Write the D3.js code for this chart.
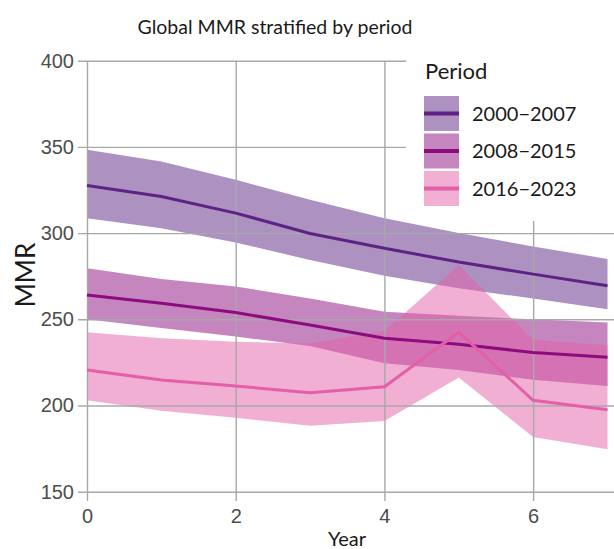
<!DOCTYPE html>
<html><head><meta charset="utf-8">
<script src="https://cdn.jsdelivr.net/npm/d3@7"></script>
<style>
body{margin:0;background:#fff;}
svg{font-family:Lato,"Noto Sans",sans-serif;}
</style></head>
<body><svg id="c" width="614" height="549"></svg>
<script>
const years = [0,1,2,3,4,5,6,7];
const periods = ["2000\u22122007","2008\u22122015","2016\u22122023"];
const colors = ["#5c2384","#8c0c7e","#e35fa8"];
const mean2000 = [327.6,321.2,311.6,299.8,291.2,283.2,276.2,269.5];
const upper2000 = [348.3,341.5,330.9,319.3,308.6,300.0,292.3,285.0];
const lower2000 = [308.6,302.8,294.5,284.4,275.2,268.0,262.0,255.8];
const mean2008 = [264.1,259.3,253.9,246.7,239.0,235.5,230.8,228.0];
const upper2008 = [279.6,273.4,269.0,262.0,254.4,252.0,250.0,248.2];
const lower2008 = [250.0,245.0,240.0,234.5,224.5,220.6,215.0,211.3];
const mean2016 = [220.6,214.8,211.3,207.4,210.9,242.5,203.0,197.5];
const upper2016 = [242.5,239.0,237.0,236.0,243.0,281.5,238.0,235.0];
const lower2016 = [203.1,197.0,192.9,188.2,191.0,216.3,181.7,174.6];
const xTicks = [0,2,4,6];
const yTicks = [150,200,250,300,350,400];

const series = [
  {name:periods[0], color:colors[0], mean:mean2000, upper:upper2000, lower:lower2000},
  {name:periods[1], color:colors[1], mean:mean2008, upper:upper2008, lower:lower2008},
  {name:periods[2], color:colors[2], mean:mean2016, upper:upper2016, lower:lower2016}
];

const svg = d3.select("#c");
const x = d3.scaleLinear().domain([0,7]).range([87,607.5]);
const y = d3.scaleLinear().domain([150,400]).range([491.7,60.7]);

// bands
const area = d3.area().x((d,i)=>x(years[i])).y0(d=>y(d[1])).y1(d=>y(d[0]));
series.forEach(s=>{
  svg.append("path")
    .datum(s.upper.map((u,i)=>[u,s.lower[i]]))
    .attr("d",area)
    .attr("fill",s.color).attr("fill-opacity",0.5);
});

// axes with gridlines
const gx = svg.append("g").attr("transform","translate(0,501)")
  .call(d3.axisBottom(x).tickValues(xTicks).tickFormat(d3.format("d"))
    .tickSizeInner(-(501-60.7)).tickSizeOuter(0).tickPadding(8));
const gy = svg.append("g").attr("transform","translate(78,0)")
  .call(d3.axisLeft(y).tickValues(yTicks).tickFormat(d3.format("d"))
    .tickSizeInner(-(614-78)).tickSizeOuter(0).tickPadding(4));
[gx,gy].forEach(g=>{
  g.select(".domain").remove();
  g.selectAll(".tick line").attr("stroke","#a8a8a8").attr("stroke-width",1.4);
  g.selectAll(".tick text").attr("fill","#4d4d4d").style("font-size","20px");
});

// lines
const line = d3.line().x((d,i)=>x(years[i])).y(d=>y(d));
series.forEach(s=>{
  svg.append("path").datum(s.mean).attr("d",line)
    .attr("fill","none").attr("stroke",s.color).attr("stroke-width",3);
});

// titles
svg.append("text").attr("x",275).attr("y",34).attr("text-anchor","middle")
  .style("font-size","19.5px").attr("fill","#1a1a1a").text("Global MMR stratified by period");
svg.append("text").attr("x",347).attr("y",546).attr("text-anchor","middle")
  .style("font-size","20px").attr("fill","#1a1a1a").text("Year");
svg.append("text").attr("transform","translate(35,275) rotate(-90)").attr("text-anchor","middle")
  .style("font-size","26px").attr("fill","#1a1a1a").text("MMR");

// legend
const lg = svg.append("g");
lg.append("rect").attr("x",406).attr("y",55).attr("width",208).attr("height",166).attr("fill","#fff");
lg.append("text").attr("x",425).attr("y",79).style("font-size","22px").attr("fill","#1a1a1a").text("Period");
series.forEach((s,i)=>{
  const yy = 96 + i*37.5;
  lg.append("rect").attr("x",424).attr("y",yy).attr("width",35).attr("height",35)
    .attr("fill",s.color).attr("fill-opacity",0.5);
  lg.append("line").attr("x1",424).attr("x2",459).attr("y1",yy+17.5).attr("y2",yy+17.5)
    .attr("stroke",s.color).attr("stroke-width",4);
  lg.append("text").attr("x",472).attr("y",yy+24.5).style("font-size","20px").attr("fill","#1a1a1a").text(s.name);
});
</script></body></html>
